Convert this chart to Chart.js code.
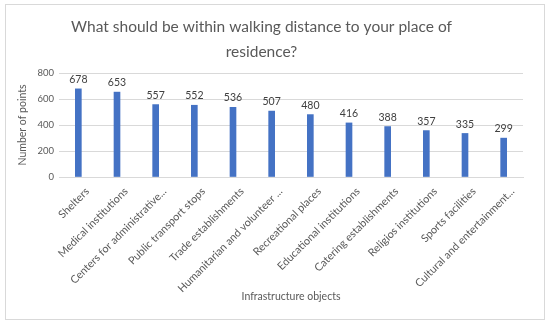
<!DOCTYPE html>
<html>
<head>
<meta charset="utf-8">
<script src="https://cdn.jsdelivr.net/npm/chart.js@4"></script>
<style>
  body { margin: 0; background: #fff; }
  #wrap { position: relative; width: 550px; height: 326px; }
</style>
</head>
<body>
<div id="wrap"><canvas id="myChart" width="550" height="326"></canvas></div>
<script>
// categories and points
const categories = [
  'Shelters',
  'Medical institutions',
  'Centers for administrative...',
  'Public transport stops',
  'Trade establishments',
  'Humanitarian and volunteer ...',
  'Recreational places',
  'Educational institutions',
  'Catering establishments',
  'Religios institutions',
  'Sports facilities',
  'Cultural and entertainment...'
];
const points = [678, 653, 557, 552, 536, 507, 480, 416, 388, 357, 335, 299];

const textColor = '#595959';
const gridColor = '#d9d9d9';
const fontName = 'Lato';

// light frame round the whole chart
const framePlugin = {
  id: 'frame',
  beforeDraw(chart) {
    const ctx = chart.ctx;
    ctx.save();
    ctx.fillStyle = '#fff';
    ctx.fillRect(0, 0, chart.width, chart.height);
    ctx.strokeStyle = gridColor;
    ctx.lineWidth = 1;
    ctx.strokeRect(5.5, 4.5, 539, 315);
    ctx.restore();
  }
};

// value above each bar
const valuePlugin = {
  id: 'values',
  afterDatasetsDraw(chart) {
    const ctx = chart.ctx;
    const meta = chart.getDatasetMeta(0);
    ctx.save();
    ctx.font = '10.5px ' + fontName;
    ctx.fillStyle = '#404040';
    ctx.textAlign = 'center';
    ctx.textBaseline = 'bottom';
    meta.data.forEach((bar, i) => {
      ctx.fillText(points[i], bar.x, bar.y - 4);
    });
    ctx.restore();
  }
};

const ctx = document.getElementById('myChart').getContext('2d');
const myChart = new Chart(ctx, {
  type: 'bar',
  data: {
    labels: categories,
    datasets: [{
      label: 'Number of points',
      data: points,
      backgroundColor: '#4472C4',
      barThickness: 6
    }]
  },
  options: {
    responsive: false,
    animation: false,
    layout: { padding: { left: 0, right: 27, top: 0, bottom: 0 } },
    plugins: {
      legend: { display: false },
      tooltip: { enabled: false },
      title: {
        display: true,
        text: ['What should be within walking distance to your place of', 'residence?'],
        color: textColor,
        font: { family: fontName, size: 15.5, weight: 'normal', lineHeight: 1.6 },
        padding: { top: 14.5, bottom: 8.9 }
      }
    },
    scales: {
      x: {
        grid: { display: false, drawTicks: false },
        border: { color: gridColor },
        ticks: {
          color: textColor,
          font: { family: fontName, size: 10.8 },
          minRotation: 45,
          maxRotation: 45,
          autoSkip: false,
          labelOffset: 9,
          padding: 8
        },
        title: {
          display: true,
          text: 'Infrastructure objects',
          color: textColor,
          font: { family: fontName, size: 10.5 },
          padding: { top: 0, bottom: 23 }
        },
        afterFit(scale) { scale.height = 149; }
      },
      y: {
        min: 0,
        max: 800,
        ticks: {
          stepSize: 100,
          color: textColor,
          font: { family: fontName, size: 9.5 },
          padding: 5
        },
        grid: { color: gridColor, drawTicks: false },
        border: { display: false },
        title: {
          display: true,
          text: 'Number of points',
          color: textColor,
          font: { family: fontName, size: 10.5 },
          padding: { top: 16, bottom: 0 }
        },
        afterFit(scale) { scale.width = 59; }
      }
    }
  },
  plugins: [framePlugin, valuePlugin]
});
</script>
</body>
</html>
